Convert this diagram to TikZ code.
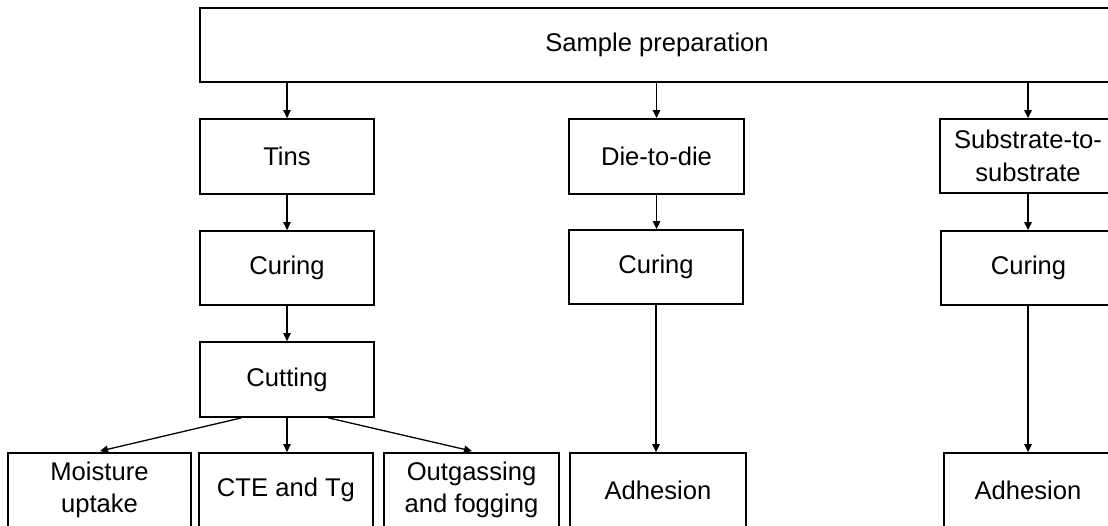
\documentclass[tikz,border=0pt]{standalone}
\usepackage{fontspec}
\setmainfont{Liberation Sans}
\usetikzlibrary{arrows.meta,calc}
\tikzset{
  stepbox/.style={draw=black, line width=1.8pt, inner sep=0pt, align=center,
    font=\fontsize{25.6}{32.5}\selectfont},
  arr/.style={draw=black, line width=1.3pt, -{Triangle[length=8pt,width=7.5pt]}}
}
\begin{document}
\begin{tikzpicture}[x=1pt,y=-1pt]
\clip (0,0) rectangle (1108,526);
\fill[white] (0,0) rectangle (1108,526);
% top
\node[stepbox, minimum width=914pt, minimum height=74pt] (top) at (657,45) {Sample preparation};
% column 1
\node[stepbox, minimum width=174pt, minimum height=75pt] (tins) at (287,156.5) {Tins};
\node[stepbox, minimum width=174pt, minimum height=74pt] (cur1) at (287,268) {Curing};
\node[stepbox, minimum width=174pt, minimum height=75pt] (cut) at (287,379.5) {Cutting};
\node[stepbox, minimum width=183pt, minimum height=74pt] (moist) at (99.5,490) {Moisture\\uptake};
\node[stepbox, minimum width=174pt, minimum height=74pt] (cte) at (286,490) {CTE and Tg};
\node[stepbox, minimum width=175pt, minimum height=74pt] (outg) at (471.5,490) {Outgassing\\and fogging};
% column 2
\node[stepbox, minimum width=175pt, minimum height=75pt] (die) at (656.5,156.5) {Die-to-die};
\node[stepbox, minimum width=174pt, minimum height=74pt] (cur2) at (656,267) {Curing};
\node[stepbox, minimum width=176pt, minimum height=74pt] (adh2) at (658,490) {Adhesion};
% column 3
\node[stepbox, minimum width=176pt, minimum height=74pt] (sub) at (1028,156) {Substrate-to-\\substrate};
\node[stepbox, minimum width=175pt, minimum height=74pt] (cur3) at (1028.5,268) {Curing};
\node[stepbox, minimum width=168pt, minimum height=74pt] (adh3) at (1028,490) {Adhesion};
% connectors
\draw[arr] (top.south -| tins.north) -- (tins.north);
\draw[arr] (top.south -| die.north) -- (die.north);
\draw[arr] (top.south -| sub.north) -- (sub.north);
\draw[arr] (tins.south) -- (cur1.north);
\draw[arr] (cur1.south) -- (cut.north);
\draw[arr] ($(cut.south west)!0.24!(cut.south east)$) -- ($(moist.north)+(0.5,-1)$);
\draw[arr] (cut.south) -- (cut.south |- cte.north);
\draw[arr] ($(cut.south west)!0.736!(cut.south east)$) -- ($(outg.north)+(0.5,-1)$);
\draw[arr] (die.south) -- (die.south |- cur2.north);
\draw[arr] (cur2.south) -- (cur2.south |- adh2.north);
\draw[arr] (sub.south) -- (sub.south |- cur3.north);
\draw[arr] (cur3.south -| sub.south) -- (sub.south |- adh3.north);
\end{tikzpicture}
\end{document}
